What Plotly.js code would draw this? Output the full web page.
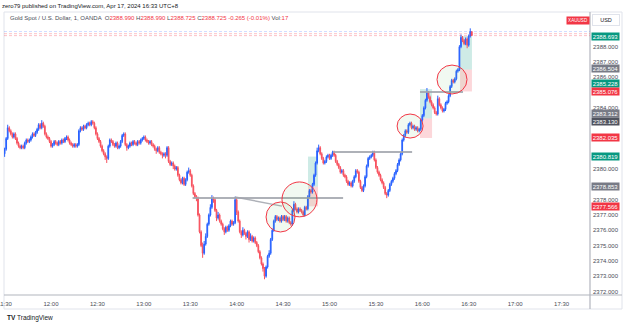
<!DOCTYPE html>
<html><head><meta charset="utf-8">
<script src="https://cdn.plot.ly/plotly-3.0.1.min.js"></script>
<style>html,body{margin:0;padding:0;background:#fff}#chart{width:625px;height:326px}</style>
</head><body><div id="chart"></div>
<script>
// ---- data (1-minute XAUUSD candles, 11:30 .. 16:32, Apr 17 2024) ----
const firstMinute = 690; // 11:30
const opens = [2381.0,2381.3,2382.0,2382.7,2382.5,2382.3,2382.1,2382.3,2382.0,2381.7,
2381.5,2381.4,2381.5,2381.4,2381.7,2381.9,2381.8,2381.9,2382.1,2382.3,
2382.2,2382.4,2382.6,2382.9,2382.7,2383.0,2382.8,2382.3,2382.1,2382.0,
2381.8,2381.5,2381.6,2381.8,2381.7,2381.6,2381.8,2381.7,2381.9,2381.8,
2382.0,2382.1,2381.9,2381.7,2381.6,2381.5,2381.6,2381.5,2381.6,2382.5,
2382.7,2382.6,2382.8,2382.7,2382.9,2383.0,2382.9,2383.1,2383.0,2382.7,
2382.3,2382.0,2381.8,2381.5,2381.2,2381.0,2380.8,2380.7,2381.5,2381.9,
2381.8,2381.6,2381.5,2381.7,2381.4,2381.5,2381.8,2382.2,2382.3,2381.6,
2381.4,2381.5,2381.7,2381.6,2381.8,2381.7,2381.6,2381.8,2381.7,2381.9,
2382.0,2382.1,2381.9,2381.8,2381.7,2381.8,2381.6,2381.5,2381.3,2381.2,
2381.4,2381.1,2381.0,2380.9,2381.0,2380.9,2381.4,2380.5,2380.3,2380.4,
2380.2,2380.0,2380.1,2379.6,2379.3,2379.1,2379.4,2379.0,2379.3,2379.8,
2379.9,2379.6,2378.9,2378.4,2378.2,2378.1,2377.0,2375.9,2375.0,2374.5,
2375.1,2375.6,2376.4,2377.0,2377.5,2378.1,2378.0,2377.3,2376.8,2377.0,
2376.6,2376.4,2376.1,2375.9,2376.2,2376.0,2376.3,2376.6,2376.4,2376.5,
2378.0,2377.2,2376.6,2375.9,2375.7,2376.0,2375.8,2375.6,2375.9,2375.4,
2375.6,2375.3,2375.5,2375.2,2375.0,2374.6,2374.2,2373.8,2373.5,2373.0,
2373.6,2374.3,2374.5,2375.4,2376.0,2376.6,2376.9,2376.7,2376.8,2376.6,
2376.9,2376.7,2376.9,2376.6,2376.8,2376.5,2376.4,2377.3,2377.7,2377.4,
2377.2,2377.4,2377.3,2377.2,2377.0,2377.5,2377.4,2378.2,2378.6,2378.5,
2379.0,2379.6,2380.4,2381.2,2381.4,2381.0,2380.7,2380.4,2380.5,2380.8,
2380.9,2380.7,2380.9,2381.1,2380.9,2380.5,2380.3,2380.1,2379.8,2379.9,
2379.6,2379.5,2379.2,2379.0,2379.1,2378.9,2379.2,2379.5,2379.9,2379.8,
2379.2,2378.8,2378.6,2378.9,2379.5,2380.2,2380.7,2380.8,2380.9,2381.1,
2380.6,2380.1,2379.8,2379.6,2379.3,2379.1,2378.8,2378.4,2378.3,2378.6,
2379.0,2379.2,2379.4,2379.7,2379.9,2380.3,2380.6,2381.0,2381.9,2382.2,
2382.5,2382.4,2382.9,2383.0,2382.7,2382.8,2382.6,2382.7,2382.5,2382.6,
2383.2,2383.5,2384.0,2384.5,2385.0,2384.7,2384.4,2384.2,2384.0,2383.7,
2383.6,2384.6,2384.2,2384.0,2383.8,2383.9,2384.3,2384.4,2384.8,2385.4,
2385.8,2385.7,2385.9,2386.4,2386.5,2388.0,2388.6,2388.4,2388.2,2388.5,
2388.1,2388.7,2388.99];
const highs = [2381.4,2382.1,2382.9,2382.8,2382.6,2382.4,2382.4,2382.4,2382.1,2381.8,
2381.6,2381.6,2381.6,2381.8,2382.0,2382.0,2382.0,2382.2,2382.4,2382.4,
2382.5,2382.7,2383.0,2383.0,2383.2,2383.1,2382.9,2382.4,2382.2,2382.1,
2381.9,2381.7,2381.9,2381.9,2381.8,2381.9,2381.9,2382.0,2382.0,2382.1,
2382.2,2382.2,2382.0,2381.8,2381.7,2381.7,2381.7,2381.7,2382.6,2382.8,
2382.8,2382.9,2382.9,2383.0,2383.1,2383.1,2383.2,2383.2,2383.1,2382.8,
2382.4,2382.1,2381.9,2381.6,2381.3,2381.1,2380.9,2381.6,2382.0,2382.0,
2381.9,2381.7,2381.8,2381.8,2381.6,2381.9,2382.3,2382.4,2382.4,2381.7,
2381.6,2381.8,2381.8,2381.9,2381.9,2381.8,2381.9,2381.9,2382.0,2382.1,
2382.2,2382.2,2382.0,2381.9,2381.9,2381.9,2381.7,2381.6,2381.4,2381.5,
2381.5,2381.2,2381.1,2381.1,2381.1,2381.5,2381.5,2380.6,2380.5,2380.5,
2380.3,2380.2,2380.2,2379.7,2379.4,2379.5,2379.5,2379.4,2379.9,2380.1,
2380.0,2379.7,2379.0,2378.5,2378.3,2378.2,2377.1,2376.0,2375.2,2375.3,
2375.8,2376.5,2377.1,2377.7,2378.3,2378.2,2378.1,2377.4,2377.2,2377.1,
2376.7,2376.5,2376.2,2376.3,2376.3,2376.4,2376.7,2376.7,2376.6,2378.2,
2378.1,2377.3,2376.7,2376.0,2376.2,2376.1,2375.9,2376.0,2376.0,2375.8,
2375.7,2375.6,2375.6,2375.3,2375.1,2374.7,2374.3,2373.9,2373.6,2373.7,
2374.4,2374.7,2375.5,2376.1,2376.7,2377.0,2377.0,2376.9,2376.9,2377.0,
2377.0,2377.0,2377.0,2376.9,2376.9,2376.6,2377.4,2377.9,2377.8,2377.5,
2377.5,2377.5,2377.4,2377.3,2377.6,2377.6,2378.3,2378.7,2378.7,2379.1,
2379.7,2380.5,2381.4,2381.6,2381.5,2381.1,2380.8,2380.6,2380.9,2381.0,
2381.0,2381.0,2381.2,2381.2,2381.0,2380.6,2380.4,2380.2,2380.0,2380.0,
2379.7,2379.6,2379.3,2379.2,2379.2,2379.3,2379.6,2380.0,2380.0,2379.9,
2379.3,2378.9,2379.0,2379.6,2380.3,2380.8,2380.9,2381.0,2381.2,2381.2,
2380.7,2380.2,2379.9,2379.7,2379.4,2379.2,2378.9,2378.5,2378.7,2379.1,
2379.3,2379.5,2379.8,2380.0,2380.4,2380.7,2381.1,2382.0,2382.3,2382.6,
2382.6,2383.0,2383.1,2383.1,2382.9,2382.9,2382.8,2382.8,2382.7,2383.3,
2383.6,2384.1,2384.6,2385.3,2385.1,2384.8,2384.5,2384.3,2384.1,2383.8,
2384.8,2384.7,2384.3,2384.1,2384.0,2384.4,2384.5,2384.9,2385.5,2385.9,
2385.9,2386.0,2386.5,2386.6,2388.1,2388.8,2388.7,2388.5,2388.6,2388.6,
2388.8,2389.2,2388.99];
const lows = [2380.8,2381.2,2381.9,2382.4,2382.2,2382.0,2382.0,2381.9,2381.6,2381.4,
2381.3,2381.3,2381.3,2381.3,2381.6,2381.7,2381.7,2381.8,2382.0,2382.1,
2382.1,2382.3,2382.5,2382.6,2382.6,2382.7,2382.2,2382.0,2381.9,2381.7,
2381.4,2381.4,2381.5,2381.6,2381.5,2381.5,2381.6,2381.6,2381.7,2381.7,
2381.9,2381.8,2381.6,2381.5,2381.4,2381.4,2381.4,2381.4,2381.5,2382.4,
2382.5,2382.5,2382.6,2382.6,2382.8,2382.8,2382.8,2382.9,2382.6,2382.2,
2381.9,2381.7,2381.4,2381.1,2380.9,2380.6,2380.4,2380.6,2381.4,2381.7,
2381.5,2381.4,2381.4,2381.3,2381.3,2381.4,2381.7,2382.1,2381.5,2381.2,
2381.3,2381.4,2381.5,2381.5,2381.6,2381.5,2381.5,2381.6,2381.6,2381.8,
2381.9,2381.8,2381.7,2381.6,2381.6,2381.5,2381.4,2381.2,2381.0,2381.1,
2381.0,2380.9,2380.7,2380.8,2380.7,2380.8,2380.4,2380.2,2380.2,2380.0,
2379.9,2379.9,2379.5,2379.2,2379.0,2379.0,2378.9,2378.9,2379.2,2379.7,
2379.5,2378.8,2378.3,2378.1,2377.9,2376.9,2375.8,2374.9,2374.2,2374.4,
2375.0,2375.5,2376.3,2376.9,2377.4,2377.8,2377.2,2376.6,2376.7,2376.5,
2376.3,2376.0,2375.7,2375.8,2375.9,2375.9,2376.2,2376.3,2376.3,2376.4,
2377.0,2376.5,2375.8,2375.5,2375.6,2375.7,2375.4,2375.5,2375.2,2375.3,
2375.2,2375.2,2375.1,2374.9,2374.5,2374.1,2373.7,2373.3,2372.8,2372.9,
2373.5,2374.2,2374.4,2375.3,2375.9,2376.5,2376.6,2376.6,2376.5,2376.5,
2376.6,2376.6,2376.5,2376.5,2376.4,2376.3,2376.3,2377.2,2377.3,2377.1,
2377.1,2377.2,2377.1,2376.9,2376.9,2377.3,2377.3,2378.1,2378.4,2378.4,
2378.9,2379.5,2380.3,2381.1,2380.9,2380.6,2380.3,2380.3,2380.4,2380.7,
2380.6,2380.6,2380.8,2380.8,2380.4,2380.2,2380.0,2379.7,2379.7,2379.5,
2379.4,2379.1,2378.9,2378.9,2378.8,2378.8,2379.1,2379.4,2379.7,2379.1,
2378.7,2378.5,2378.5,2378.8,2379.4,2380.1,2380.6,2380.7,2380.8,2380.5,
2380.0,2379.7,2379.5,2379.2,2379.0,2378.7,2378.3,2378.1,2378.2,2378.5,
2378.9,2379.1,2379.3,2379.6,2379.8,2380.2,2380.5,2380.9,2381.8,2382.1,
2382.3,2382.3,2382.8,2382.6,2382.6,2382.5,2382.5,2382.4,2382.4,2382.5,
2383.1,2383.4,2383.9,2384.4,2384.6,2384.3,2384.1,2383.9,2383.6,2383.5,
2383.5,2384.1,2383.9,2383.7,2383.7,2383.8,2384.2,2384.3,2384.7,2385.3,
2385.6,2385.6,2385.8,2386.3,2386.4,2387.9,2388.3,2388.1,2388.1,2387.9,
2388.0,2388.6,2388.725];
const closes = [2381.3,2382.0,2382.7,2382.5,2382.3,2382.1,2382.3,2382.0,2381.7,2381.5,
2381.4,2381.5,2381.4,2381.7,2381.9,2381.8,2381.9,2382.1,2382.3,2382.2,
2382.4,2382.6,2382.9,2382.7,2383.0,2382.8,2382.3,2382.1,2382.0,2381.8,
2381.5,2381.6,2381.8,2381.7,2381.6,2381.8,2381.7,2381.9,2381.8,2382.0,
2382.1,2381.9,2381.7,2381.6,2381.5,2381.6,2381.5,2381.6,2382.5,2382.7,
2382.6,2382.8,2382.7,2382.9,2383.0,2382.9,2383.1,2383.0,2382.7,2382.3,
2382.0,2381.8,2381.5,2381.2,2381.0,2380.8,2380.7,2381.5,2381.9,2381.8,
2381.6,2381.5,2381.7,2381.4,2381.5,2381.8,2382.2,2382.3,2381.6,2381.4,
2381.5,2381.7,2381.6,2381.8,2381.7,2381.6,2381.8,2381.7,2381.9,2382.0,
2382.1,2381.9,2381.8,2381.7,2381.8,2381.6,2381.5,2381.3,2381.2,2381.4,
2381.1,2381.0,2380.9,2381.0,2380.9,2381.4,2380.5,2380.3,2380.4,2380.2,
2380.0,2380.1,2379.6,2379.3,2379.1,2379.4,2379.0,2379.3,2379.8,2379.9,
2379.6,2378.9,2378.4,2378.2,2378.1,2377.0,2375.9,2375.0,2374.5,2375.1,
2375.6,2376.4,2377.0,2377.5,2378.1,2378.0,2377.3,2376.8,2377.0,2376.6,
2376.4,2376.1,2375.9,2376.2,2376.0,2376.3,2376.6,2376.4,2376.5,2378.0,
2377.2,2376.6,2375.9,2375.7,2376.0,2375.8,2375.6,2375.9,2375.4,2375.6,
2375.3,2375.5,2375.2,2375.0,2374.6,2374.2,2373.8,2373.5,2373.0,2373.6,
2374.3,2374.5,2375.4,2376.0,2376.6,2376.9,2376.7,2376.8,2376.6,2376.9,
2376.7,2376.9,2376.6,2376.8,2376.5,2376.4,2377.3,2377.7,2377.4,2377.2,
2377.4,2377.3,2377.2,2377.0,2377.5,2377.4,2378.2,2378.6,2378.5,2379.0,
2379.6,2380.4,2381.2,2381.4,2381.0,2380.7,2380.4,2380.5,2380.8,2380.9,
2380.7,2380.9,2381.1,2380.9,2380.5,2380.3,2380.1,2379.8,2379.9,2379.6,
2379.5,2379.2,2379.0,2379.1,2378.9,2379.2,2379.5,2379.9,2379.8,2379.2,
2378.8,2378.6,2378.9,2379.5,2380.2,2380.7,2380.8,2380.9,2381.1,2380.6,
2380.1,2379.8,2379.6,2379.3,2379.1,2378.8,2378.4,2378.3,2378.6,2379.0,
2379.2,2379.4,2379.7,2379.9,2380.3,2380.6,2381.0,2381.9,2382.2,2382.5,
2382.4,2382.9,2383.0,2382.7,2382.8,2382.6,2382.7,2382.5,2382.6,2383.2,
2383.5,2384.0,2384.5,2385.0,2384.7,2384.4,2384.2,2384.0,2383.7,2383.6,
2384.6,2384.2,2384.0,2383.8,2383.9,2384.3,2384.4,2384.8,2385.4,2385.8,
2385.7,2385.9,2386.4,2386.5,2388.0,2388.6,2388.4,2388.2,2388.5,2388.1,
2388.7,2388.99,2388.725];
const volumeLast = 17;
const changeAbs = -0.265, changePct = -0.01;

// price-axis tick values still visible between the coloured labels, and those labels
const yTicks = [2372,2373,2374,2375,2376,2377,2378,2380,2384,2386,2387,2388];
const labelPrices = [2388.693, 2386.504, 2385.228, 2385.076, 2383.312, 2383.130, 2382.035, 2380.819, 2378.853, 2377.566];
const labelKinds  = ['tp','entry','tp','sl','entry','mark','sl','tp','entry','sl'];

// drawings (minute-of-day, price)
const hLines = [ {t0:811.5, t1:908.8, p:2378.11}, {t0:902.3, t1:953.4, p:2381.12}, {t0:958.5, t1:986.3, p:2385.04} ];
const trendLine = {t0:838.9, p0:2378.18, t1:869.3, p1:2377.58};
const positions = [
  {t0:886.1, t1:892.6, entry:2378.853, tp:2380.819, sl:2377.566},
  {t0:958.5, t1:966.3, entry:2383.312, tp:2385.228, sl:2382.035},
  {t0:984.4, t1:992.1, entry:2386.504, tp:2388.693, sl:2385.076}
];
const circles = [
  {t0:859.0, t1:877.7, p0:2375.89, p1:2377.85},
  {t0:869.3, t1:891.9, p0:2376.88, p1:2379.16},
  {t0:943.7, t1:960.5, p0:2382.03, p1:2383.60},
  {t0:969.5, t1:988.9, p0:2384.91, p1:2386.80}
];
const blueLine = 2388.99, redLines = [2388.85, 2388.725];

// ---- helpers ----
function tstr(m){
  const s = Math.round(m*60);
  const h = Math.floor(s/3600), mi = Math.floor((s%3600)/60), se = s%60;
  const p = n => String(n).padStart(2,'0');
  return '2024-04-17 ' + p(h) + ':' + p(mi) + ':' + p(se);
}
const L=4, R=590, T=13, B=295, W=625, H=326;
const px = x => (x-L)/(R-L);
const py = y => (B-y)/(B-T);

const times = closes.map((_,i)=>tstr(firstMinute+i));
const FONT = 'Liberation Sans, Arial, sans-serif';
const UP='#2962FF', DN='#F7525F', GREEN='#089981', RED='#F23645', GRAY='#787B86';

const trace = {
  type:'candlestick', x:times, open:opens, high:highs, low:lows, close:closes,
  increasing:{line:{color:UP,width:1}, fillcolor:UP},
  decreasing:{line:{color:DN,width:1}, fillcolor:DN},
  whiskerwidth:0, hoverinfo:'skip'
};

const shapes = [];
// frame
shapes.push({type:'rect',xref:'paper',yref:'paper',x0:px(4),x1:px(622),y0:py(309),y1:py(12),line:{color:'#e0e3eb',width:1},fillcolor:'rgba(0,0,0,0)',layer:'below'});
shapes.push({type:'line',xref:'paper',yref:'paper',x0:px(590),x1:px(590),y0:py(309),y1:py(12),line:{color:'#b2b5be',width:1.2}});
shapes.push({type:'line',xref:'paper',yref:'paper',x0:px(4),x1:px(622),y0:py(295),y1:py(295),line:{color:'#b2b5be',width:1.2}});
// dashed price lines
shapes.push({type:'line',xref:'paper',yref:'y',x0:0,x1:1,y0:blueLine,y1:blueLine,line:{color:'rgba(41,98,255,0.22)',width:1,dash:'3px,2px'}});
redLines.forEach(p=>shapes.push({type:'line',xref:'paper',yref:'y',x0:0,x1:1,y0:p,y1:p,line:{color:'rgba(242,54,69,0.3)',width:1,dash:'3px,2px'}}));
// position tools
positions.forEach(q=>{
  shapes.push({type:'rect',x0:tstr(q.t0),x1:tstr(q.t1),y0:q.entry,y1:q.tp,line:{width:0},fillcolor:'rgba(8,153,129,0.2)',layer:'below'});
  shapes.push({type:'rect',x0:tstr(q.t0),x1:tstr(q.t1),y0:q.sl,y1:q.entry,line:{width:0},fillcolor:'rgba(242,54,69,0.2)',layer:'below'});
});
// horizontal gray lines
hLines.forEach(l=>shapes.push({type:'line',x0:tstr(l.t0),x1:tstr(l.t1),y0:l.p,y1:l.p,line:{color:'rgba(160,163,172,0.85)',width:2}}));
shapes.push({type:'line',x0:tstr(trendLine.t0),x1:tstr(trendLine.t1),y0:trendLine.p0,y1:trendLine.p1,line:{color:'rgba(160,163,172,0.85)',width:1.5}});
// circles
circles.forEach(c=>shapes.push({type:'circle',x0:tstr(c.t0),x1:tstr(c.t1),y0:c.p0,y1:c.p1,line:{color:RED,width:1},fillcolor:'rgba(76,175,80,0.08)'}));

const annotations = [];
const f = (s,c,extra)=>Object.assign({family:FONT,size:s,color:c},extra||{});
annotations.push({xref:'paper',yref:'paper',x:px(0),y:py(6),xanchor:'left',yanchor:'middle',showarrow:false,
  text:'zero79 published on TradingView.com, Apr 17, 2024 16:33 UTC+8',font:f(6,'#131722')});
const n = closes.length-1;
const red = s=>'<span style="color:'+RED+'">'+s+'</span>';
annotations.push({xref:'paper',yref:'paper',x:px(8),y:py(18.5),xanchor:'left',yanchor:'middle',showarrow:false,
  text:'Gold Spot / U.S. Dollar, 1, OANDA  O'+red(opens[n].toFixed(3))+' H'+red(highs[n].toFixed(3))+' L'+red(lows[n].toFixed(3))+' C'+red(closes[n].toFixed(3))+' '+red(changeAbs.toFixed(3)+' ('+changePct.toFixed(2)+'%)')+' Vol'+red(':'+volumeLast),
  font:f(6,'#4a4d57')});
annotations.push({xref:'paper',yref:'paper',x:px(578),y:py(20.5),xanchor:'center',yanchor:'middle',showarrow:false,
  text:'XAUUSD',font:f(4.6,'#fff'),bgcolor:RED,borderpad:1,width:20});
annotations.push({xref:'paper',yref:'paper',x:px(606),y:py(20.5),xanchor:'center',yanchor:'middle',showarrow:false,
  text:'USD',font:f(5.5,'#131722'),bgcolor:'#fff',bordercolor:'#e0e3eb',borderwidth:1,borderpad:2,width:22});
const kindColor = {tp:GREEN, sl:RED, entry:GRAY, mark:'#50535e'};
const kindShift = [0,1,6,0,5,0,0,0,0,0];
labelPrices.forEach((p,i)=>annotations.push({xref:'paper',yref:'y',x:px(591),y:p,yshift:kindShift[i],xanchor:'left',yanchor:'middle',showarrow:false,
  text:p.toFixed(3),font:f(6,'#fff'),bgcolor:kindColor[labelKinds[i]],borderpad:0.5,width:26,align:'center'}));
annotations.push({xref:'paper',yref:'paper',x:px(5),y:py(318),xanchor:'left',yanchor:'middle',showarrow:false,
  text:'<b>TV</b> TradingView',font:f(6.5,'#131722')});

const layout = {
  width:W, height:H, margin:{l:L,r:W-R,t:T,b:H-B,pad:0},
  paper_bgcolor:'#fff', plot_bgcolor:'#fff', showlegend:false, hovermode:false,
  xaxis:{type:'date', range:[tstr(689.6), tstr(1068.4)], rangeslider:{visible:false}, showgrid:false, zeroline:false,
    showline:false, ticks:'', tickformat:'%H:%M', dtick:1800000, tick0:'2024-04-17 11:30:00',
    ticklabeloverflow:'allow', ticklabelstandoff:4,
    tickfont:f(6,'#4a4d57'), fixedrange:true},
  yaxis:{side:'right', range:[2371.771, 2390.203], tickmode:'array', tickvals:yTicks, ticktext:yTicks.map(v=>v.toFixed(3)),
    showgrid:false, zeroline:false, showline:false, ticks:'', ticklabelstandoff:2, tickfont:f(6,'#4a4d57'), fixedrange:true},
  shapes:shapes, annotations:annotations
};
Plotly.newPlot('chart',[trace],layout,{displayModeBar:false,staticPlot:true});
</script></body></html>
